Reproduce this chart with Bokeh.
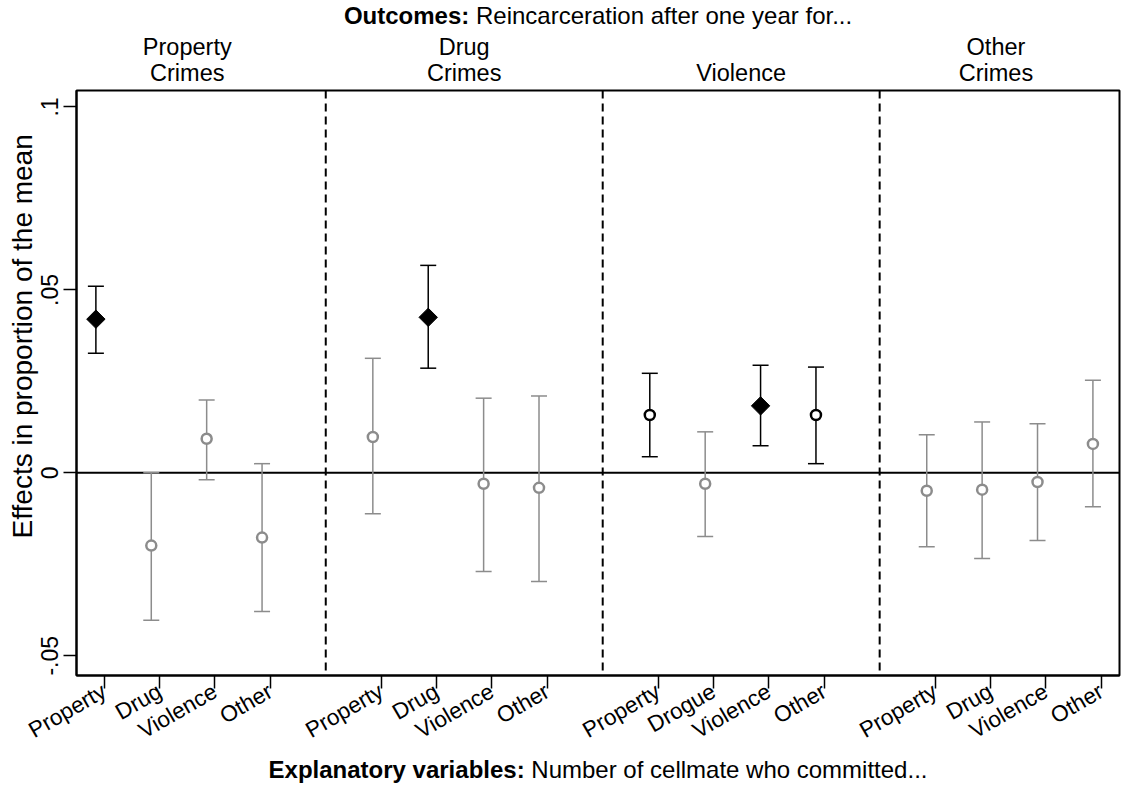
import math
from bokeh.plotting import figure
from bokeh.layouts import column
from bokeh.models import Range1d, FixedTicker, LinearAxis, Span, ColumnDataSource
from bokeh.core.properties import value
from bokeh.embed import file_html
from bokeh.resources import INLINE

# ---- data -------------------------------------------------------------
outcome_groups = ["Property\nCrimes", "Drug\nCrimes", "Violence", "Other\nCrimes"]

cellmate_labels = [
    ["Property", "Drug", "Violence", "Other"],
    ["Property", "Drug", "Violence", "Other"],
    ["Property", "Drogue", "Violence", "Other"],
    ["Property", "Drug", "Violence", "Other"],
]

# point estimates, one row per outcome
effects = [
    [0.0420, -0.0199, 0.0093, -0.0177],
    [0.0098, 0.0425, -0.0030, -0.0041],
    [0.0158, -0.0030, 0.0183, 0.0158],
    [-0.0049, -0.0046, -0.0025, 0.0079],
]
ci_high = [
    [0.0510, 0.0000, 0.0199, 0.0025],
    [0.0313, 0.0567, 0.0204, 0.0210],
    [0.0272, 0.0112, 0.0294, 0.0289],
    [0.0104, 0.0139, 0.0134, 0.0253],
]
ci_low = [
    [0.0327, -0.0403, -0.0019, -0.0379],
    [-0.0112, 0.0286, -0.0270, -0.0297],
    [0.0044, -0.0174, 0.0074, 0.0025],
    [-0.0202, -0.0234, -0.0185, -0.0093],
]
# "strong" = filled diamond, "weak" = black hollow circle, "ns" = grey hollow circle
significance = [
    ["strong", "ns", "ns", "ns"],
    ["ns", "strong", "ns", "ns"],
    ["weak", "ns", "strong", "weak"],
    ["ns", "ns", "ns", "ns"],
]

y_ticks = [-0.05, 0.0, 0.05, 0.1]
y_tick_labels = ["-.05", "0", ".05", ".1"]

y_title = "Effects in proportion of the mean"
outcome_title = ("Outcomes:", "Reincarceration after one year for...")
explanatory_title = ("Explanatory variables:", "Number of cellmate who committed...")

# ---- layout constants --------------------------------------------------
FONT = "Liberation Sans"
GREY = "#8c8c8c"
W, H = 1121, 785
TOP_H, BOTTOM_H = 30, 28
MAIN_H = H - TOP_H - BOTTOM_H
FRAME_TOP, FRAME_BOTTOM = 90, 675        # page pixels
GROUP_STRIDE = 5          # four explanatory variables + one empty slot per outcome
MARKER_OFFSET = -0.15     # coefficient markers sit slightly left of their tick
GROUP_LABEL_POS = [2.5, 7.5, 12.5, 17.1]
X_MIN, X_MAX = 0.5, 19.33
Y_MIN, Y_MAX = -0.0554, 0.1045
BORDER_L, BORDER_R = 76, 2

tick_pos, tick_text = [], []
rows = {"strong": [], "weak": [], "ns": []}
for g in range(len(outcome_groups)):
    for k in range(4):
        pos = g * GROUP_STRIDE + k + 1
        tick_pos.append(pos)
        tick_text.append(cellmate_labels[g][k])
        rows[significance[g][k]].append(
            (pos + MARKER_OFFSET, effects[g][k], ci_low[g][k], ci_high[g][k]))


def source(kind):
    r = rows[kind]
    return ColumnDataSource(dict(
        x=[t[0] for t in r], y=[t[1] for t in r],
        lo=[t[2] for t in r], hi=[t[3] for t in r]))


x_range = Range1d(X_MIN, X_MAX)
p = figure(width=W, height=MAIN_H,
           x_range=x_range, y_range=Range1d(Y_MIN, Y_MAX),
           output_backend="svg", toolbar_location=None,
           min_border_left=BORDER_L, min_border_right=BORDER_R,
           min_border_top=FRAME_TOP - TOP_H,
           min_border_bottom=(TOP_H + MAIN_H) - FRAME_BOTTOM)
p.xgrid.visible = False
p.ygrid.visible = False
p.background_fill_color = "white"
p.border_fill_color = "white"
p.outline_line_color = "black"
p.outline_line_width = 2
p.outline_line_alpha = 1.0

# bottom axis: explanatory variables
xa = p.xaxis[0]
xa.ticker = FixedTicker(ticks=tick_pos)
xa.major_label_overrides = {pos: lab for pos, lab in zip(tick_pos, tick_text)}
xa.major_label_orientation = math.pi / 6
xa.major_tick_out = 13
xa.major_tick_in = 0
xa.minor_tick_out = 0
xa.minor_tick_in = 0
xa.major_tick_line_width = 1.5
xa.axis_line_width = 2
xa.major_label_standoff = 1
xa.major_label_text_font = FONT
xa.major_label_text_font_size = "22.5px"
xa.major_label_text_color = "black"

# left axis
ya = p.yaxis[0]
ya.ticker = FixedTicker(ticks=y_ticks)
ya.major_label_overrides = {v: s for v, s in zip(y_ticks, y_tick_labels)}
ya.major_label_orientation = "vertical"
ya.major_tick_out = 13
ya.major_tick_in = 0
ya.minor_tick_out = 0
ya.minor_tick_in = 0
ya.major_tick_line_width = 1.5
ya.axis_line_width = 2
ya.major_label_standoff = 5
ya.major_label_text_font = FONT
ya.major_label_text_font_size = "23px"
ya.major_label_text_color = "black"
# title sits a little above the frame centre: pad its start with no-break spaces
ya.axis_label = "\u00a0" * 12 + y_title
ya.axis_label_text_font = FONT
ya.axis_label_text_font_size = "28px"
ya.axis_label_text_font_style = "normal"
ya.axis_label_text_color = "black"
ya.axis_label_standoff = 1

# top axis: outcome groups
top = LinearAxis(ticker=FixedTicker(ticks=GROUP_LABEL_POS),
                 bounds=(GROUP_LABEL_POS[0], GROUP_LABEL_POS[-1]))
top.major_label_overrides = {pos: lab for pos, lab in zip(GROUP_LABEL_POS, outcome_groups)}
top.major_tick_out = 0
top.major_tick_in = 0
top.minor_tick_out = 0
top.minor_tick_in = 0
top.axis_line_width = 1
top.axis_line_color = "black"
top.major_label_standoff = 5
top.major_label_text_font = FONT
top.major_label_text_font_size = "23.5px"
top.major_label_text_color = "black"
top.major_label_text_line_height = 1.0
p.add_layout(top, "above")

# reference lines
p.add_layout(Span(location=0, dimension="width", line_color="black",
                  line_width=2, level="underlay"))
for g in range(1, len(outcome_groups)):
    p.add_layout(Span(location=g * GROUP_STRIDE, dimension="height",
                      line_color="black", line_width=2, line_dash="8 5",
                      level="underlay"))

# confidence intervals and point estimates
styles = {"strong": "black", "weak": "black", "ns": GREY}
for kind, col in styles.items():
    src = source(kind)
    p.segment(x0="x", y0="lo", x1="x", y1="hi", source=src,
              line_color=col, line_width=1.5)
    p.scatter(x="x", y="hi", source=src, marker="dash", size=16,
              line_color=col, line_width=1.5)
    p.scatter(x="x", y="lo", source=src, marker="dash", size=16,
              line_color=col, line_width=1.5)
    if kind == "strong":
        p.scatter(x="x", y="y", source=src, marker="square", angle=math.pi / 4,
                  size=13, fill_color="black", line_color="black")
    else:
        p.scatter(x="x", y="y", source=src, marker="circle", size=10,
                  fill_color="white", line_color=col, line_width=2.5)


# title strips above and below the chart: bold lead-in followed by plain text.
# The strips share the chart's x range, so the frame centre is (X_MIN+X_MAX)/2.
FS = 24.0
X_MID = (X_MIN + X_MAX) / 2


def title_strip(parts, lead_em, rest_em, height, y_mid):
    f = figure(width=W, height=height, x_range=x_range, y_range=Range1d(0, height),
               output_backend="svg", toolbar_location=None,
               x_axis_location=None, y_axis_location=None,
               min_border=0, min_border_left=BORDER_L, min_border_right=BORDER_R,
               min_border_top=0, min_border_bottom=0)
    f.grid.visible = False
    f.outline_line_color = None
    f.background_fill_color = "white"
    f.border_fill_color = "white"
    total = (lead_em + 0.278 + rest_em) * FS
    start = -total / 2
    f.text(x=[X_MID], y=[y_mid], text=[parts[0]], x_offset=start + lead_em * FS,
           text_font=value(FONT), text_font_size="24px", text_font_style="bold",
           text_align="right", text_baseline="middle", text_color="black")
    f.text(x=[X_MID], y=[y_mid], text=[parts[1]],
           x_offset=start + (lead_em + 0.278) * FS,
           text_font=value(FONT), text_font_size="24px", text_align="left",
           text_baseline="middle", text_color="black")
    return f


top_strip = title_strip(outcome_title, 5.223, 15.67, TOP_H, TOP_H - 15)
bottom_strip = title_strip(explanatory_title, 10.671, 16.505, BOTTOM_H, H - 769)

layout = column(top_strip, p, bottom_strip, spacing=0)

with open("out.html", "w") as fh:
    fh.write(file_html(layout, INLINE))
